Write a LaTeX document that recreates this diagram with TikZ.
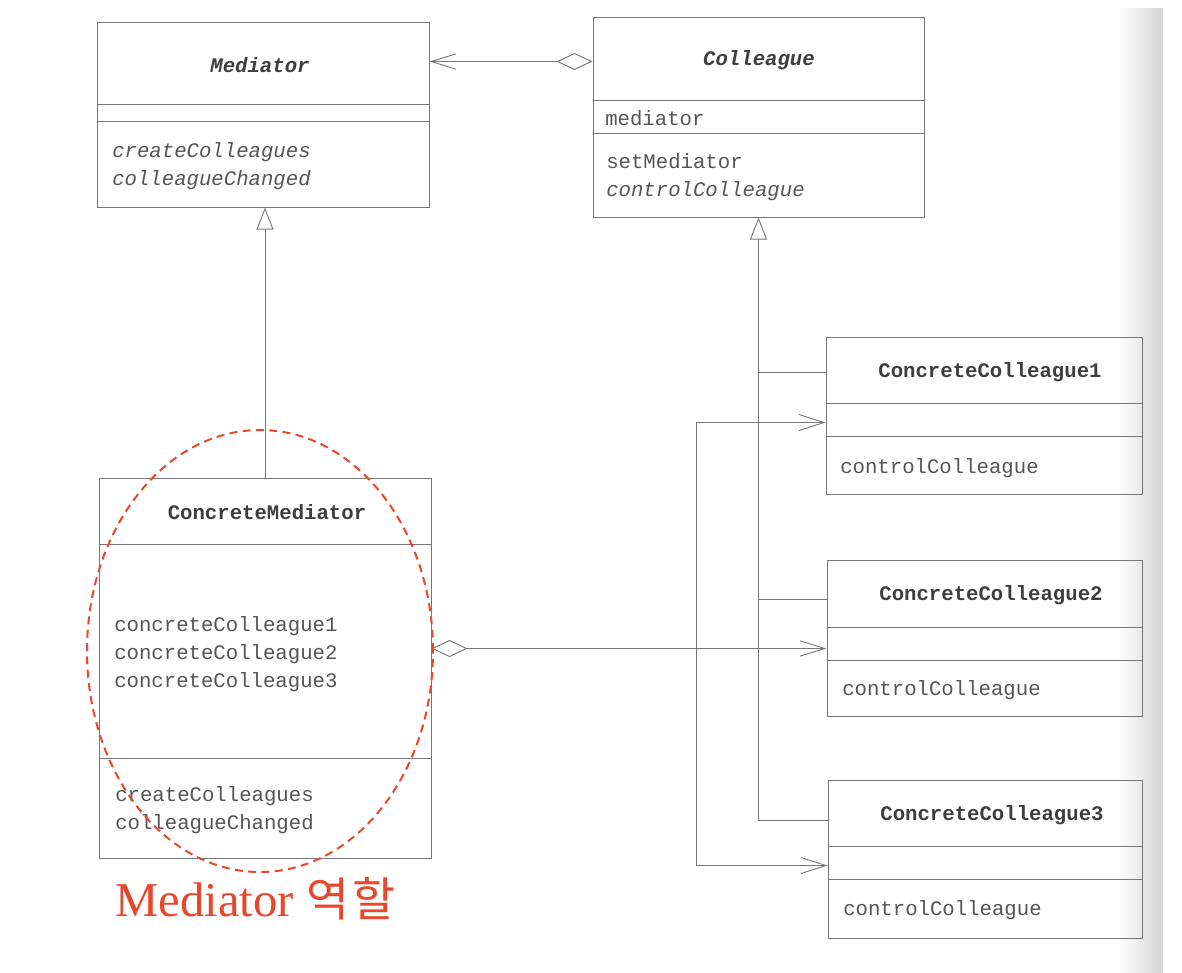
\documentclass[tikz,border=0pt]{standalone}
\usepackage{fontspec}
\setmainfont{Liberation Serif}
\setmonofont{Liberation Mono}
\newfontfamily\cjk{Noto Sans CJK KR}
\usetikzlibrary{arrows.meta,calc,fit}
\definecolor{linec}{HTML}{777777}
\definecolor{txtc}{HTML}{555555}
\definecolor{titc}{HTML}{3E3E3E}
\definecolor{redc}{HTML}{E8472B}
\begin{document}
\begin{tikzpicture}[x=0.75pt,y=-0.75pt,
  box/.style={draw=linec, line width=0.75pt, inner sep=0pt},
  divider/.style={draw=linec, line width=0.75pt},
  mono/.style={text=txtc, font=\ttfamily\fontsize{15.5}{18}\selectfont, anchor=base west, inner sep=0pt},
  monoit/.style={mono, font=\ttfamily\itshape\fontsize{15.5}{18}\selectfont},
  title/.style={text=titc, font=\ttfamily\bfseries\fontsize{15.5}{18}\selectfont, inner sep=0pt},
  titleit/.style={title, font=\ttfamily\bfseries\itshape\fontsize{15.5}{18}\selectfont},
  conn/.style={draw=linec, line width=0.7pt},
  inh/.style={conn, -{Triangle[open, length=16.5pt, width=12.75pt]}},
  aggr/.style={conn, {Diamond[open, length=27pt, width=12.75pt]}-{Straight Barb[length=18.75pt, width=11.5pt]}},
  arr/.style={conn, -{Straight Barb[length=18.75pt, width=12pt]}},
  role/.style={draw=redc, line width=1.5pt, dash pattern=on 6pt off 4pt}
]
\useasboundingbox (0,0) rectangle (1182,972);
\fill[white] (0,0) rectangle (1182,972);
\shade[left color=white, right color=black!17] (1118,8) rectangle (1163,972);

% Mediator
\node[box, fit={(97,22) (429,207)}] (med) {};
\draw[divider] (97,104) -- (429,104);
\draw[divider] (97,121) -- (429,121);
\node[titleit] (medT) at (260,65) {Mediator};
\node[monoit] (medM1) at (112,157) {createColleagues};
\node[monoit] (medM2) at (112,185) {colleagueChanged};

% Colleague
\node[box, fit={(593,17) (924,217)}] (coll) {};
\draw[divider] (593,100) -- (924,100);
\draw[divider] (593,133) -- (924,133);
\node[titleit] (collT) at (759,60) {Colleague};
\node[mono] (collA) at (605,125) {mediator};
\node[mono] (collM1) at (606,168) {setMediator};
\node[monoit] (collM2) at (606,196) {controlColleague};

% ConcreteMediator
\node[box, fit={(99,478) (431,858)}] (cm) {};
\draw[divider] (99,544) -- (431,544);
\draw[divider] (99,758) -- (431,758);
\node[title] (cmT) at (267,512) {ConcreteMediator};
\node[mono] (cmA1) at (114,631) {concreteColleague1};
\node[mono] (cmA2) at (114,659) {concreteColleague2};
\node[mono] (cmA3) at (114,687) {concreteColleague3};
\node[mono] (cmM1) at (115,801) {createColleagues};
\node[mono] (cmM2) at (115,829) {colleagueChanged};

% ConcreteColleague1
\node[box, fit={(826,337) (1142,494)}] (cc1) {};
\draw[divider] (826,403) -- (1142,403);
\draw[divider] (826,436) -- (1142,436);
\node[title] (cc1T) at (990,372) {ConcreteColleague1};
\node[mono] (cc1M) at (840,473) {controlColleague};

% ConcreteColleague2
\node[box, fit={(827,560) (1142,716)}] (cc2) {};
\draw[divider] (827,627) -- (1142,627);
\draw[divider] (827,660) -- (1142,660);
\node[title] (cc2T) at (991,595) {ConcreteColleague2};
\node[mono] (cc2M) at (842,695) {controlColleague};

% ConcreteColleague3
\node[box, fit={(828,780) (1142,938)}] (cc3) {};
\draw[divider] (828,846) -- (1142,846);
\draw[divider] (828,879) -- (1142,879);
\node[title] (cc3T) at (992,815) {ConcreteColleague3};
\node[mono] (cc3M) at (843,915) {controlColleague};

% Colleague -> Mediator
\draw[aggr] ($(coll.north west)+(0,45)$) -- ($(med.north east)+(0,40)$);

% ConcreteMediator -> Mediator
\draw[inh] (cm.north) -- (cm.north |- med.south);

% ConcreteColleagues -> Colleague
\draw[inh] ($(cc3.north west)+(0,41)$) -| (coll.south);
\draw[conn] ($(cc1.north west)+(0,36)$) coordinate (b1) -- (b1 -| coll.south);
\draw[conn] ($(cc2.north west)+(0,40)$) coordinate (b2) -- (b2 -| coll.south);

% ConcreteMediator -> ConcreteColleagues
\coordinate (cc2in) at ($(cc2.north west)+(0,89)$);
\coordinate (j) at ($(cc2in)+(-130,0)$);
\draw[aggr] (cm.east |- cc2in) -- (cc2in);
\draw[arr] (j) |- ($(cc1.north west)+(0,86)$);
\draw[arr] (j) |- ($(cc3.north west)+(0,86)$);

% Mediator role
\draw[role] (260,651) ellipse [x radius=129.75pt, y radius=165.75pt];
\node[anchor=base west, inner sep=0pt, text=redc, font=\fontsize{36.5}{42}\selectfont] (roleT) at (115,916) {Mediator\hspace{10pt}{\cjk\fontsize{35}{42}\selectfont 역\hspace{2pt}할}};
\end{tikzpicture}
\end{document}
